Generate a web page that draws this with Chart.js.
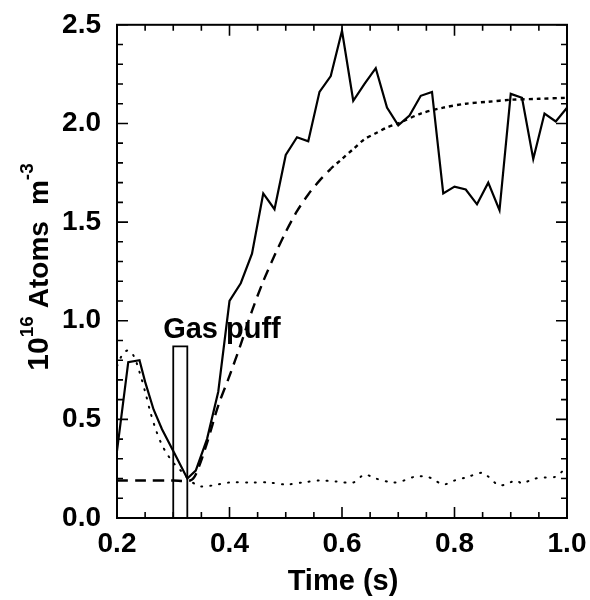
<!DOCTYPE html>
<html>
<head>
<meta charset="utf-8">
<script src="https://cdn.jsdelivr.net/npm/chart.js@4.4.1/dist/chart.umd.min.js"></script>
<style>
  html, body { margin: 0; padding: 0; background: #fff; }
  #wrap { width: 590px; height: 600px; }
</style>
</head>
<body>
<div id="wrap"><canvas id="chart" width="590" height="600"></canvas></div>
<script>
// measured signal (solid)
const measTime = [0.20, 0.22, 0.24, 0.25, 0.265, 0.28, 0.30, 0.325, 0.34, 0.36, 0.38, 0.40, 0.42, 0.44, 0.46, 0.48,
  0.50, 0.52, 0.54, 0.56, 0.58, 0.60, 0.62, 0.64, 0.66, 0.68, 0.70, 0.72, 0.74, 0.76, 0.78,
  0.80, 0.82, 0.84, 0.86, 0.88, 0.90, 0.92, 0.94, 0.96, 0.98, 1.00];
const measDens = [0.34, 0.79, 0.80, 0.69, 0.55, 0.45, 0.34, 0.20, 0.24, 0.40, 0.64, 1.10, 1.19, 1.34, 1.645, 1.565,
  1.84, 1.93, 1.91, 2.16, 2.24, 2.47, 2.115, 2.20, 2.28, 2.08, 1.99, 2.04, 2.14, 2.16, 1.645,
  1.68, 1.665, 1.59, 1.70, 1.56, 2.15, 2.13, 1.82, 2.05, 2.01, 2.08];

// fitted rise (dashed)
const fitTime = [0.20, 0.25, 0.30, 0.33, 0.34, 0.36, 0.38, 0.40, 0.42, 0.44, 0.46, 0.48, 0.50, 0.52, 0.54,
  0.56, 0.58, 0.60, 0.62, 0.64, 0.66, 0.68, 0.70, 0.74, 0.78, 0.82, 0.86, 0.90, 0.95, 1.00];
const fitDens = [0.19, 0.19, 0.19, 0.19, 0.22, 0.38, 0.57, 0.72, 0.88, 1.05, 1.20, 1.33, 1.45, 1.555, 1.64,
  1.71, 1.77, 1.82, 1.87, 1.92, 1.95, 1.98, 2.00, 2.05, 2.08, 2.10, 2.11, 2.12, 2.125, 2.13];

// model (dotted)
const modelTime = [0.20, 0.21, 0.22, 0.23, 0.24, 0.25, 0.26, 0.27, 0.28, 0.29, 0.30, 0.31, 0.32, 0.33, 0.34,
  0.35, 0.37, 0.40, 0.44, 0.47, 0.50, 0.53, 0.56, 0.59, 0.62, 0.64, 0.66, 0.69, 0.71, 0.73,
  0.75, 0.76, 0.78, 0.80, 0.82, 0.85, 0.86, 0.88, 0.91, 0.92, 0.94, 0.96, 0.98, 1.00];
const modelDens = [0.77, 0.83, 0.85, 0.82, 0.74, 0.64, 0.53, 0.44, 0.37, 0.32, 0.28, 0.25, 0.22, 0.19, 0.17,
  0.16, 0.165, 0.18, 0.18, 0.18, 0.17, 0.18, 0.19, 0.185, 0.18, 0.22, 0.20, 0.18, 0.19, 0.21,
  0.21, 0.20, 0.17, 0.19, 0.205, 0.23, 0.21, 0.165, 0.19, 0.175, 0.198, 0.205, 0.21, 0.26];

// gas puff box outline
const puffTime = [0.30, 0.30, 0.325, 0.325];
const puffDens = [0.0, 0.87, 0.87, 0.0];

const xTicks = [0.2, 0.4, 0.6, 0.8, 1.0];
const yTicks = [0.0, 0.5, 1.0, 1.5, 2.0, 2.5];

const FONT = '"Liberation Sans", Arial, sans-serif';

function pts(xs, ys) {
  return xs.map((x, i) => ({ x: x, y: ys[i] }));
}

const framePlugin = {
  id: "frame",
  afterDraw(chart) {
    const { ctx, chartArea: a, scales: { x, y } } = chart;
    ctx.save();
    ctx.strokeStyle = "#000";
    ctx.lineWidth = 2;
    ctx.strokeRect(a.left, a.top, a.right - a.left, a.bottom - a.top);

    // inward ticks on all sides
    ctx.lineWidth = 1.6;
    ctx.beginPath();
    for (let i = 0; i <= 16; i++) {
      const px = x.getPixelForValue(0.2 + i * 0.05);
      const len = i % 4 === 0 ? 11 : 6;
      ctx.moveTo(px, a.bottom); ctx.lineTo(px, a.bottom - len);
      ctx.moveTo(px, a.top); ctx.lineTo(px, a.top + len);
    }
    for (let i = 0; i <= 25; i++) {
      const py = y.getPixelForValue(i * 0.1);
      const len = i % 5 === 0 ? 11 : 6;
      ctx.moveTo(a.left, py); ctx.lineTo(a.left + len, py);
      ctx.moveTo(a.right, py); ctx.lineTo(a.right - len, py);
    }
    ctx.stroke();

    ctx.fillStyle = "#000";
    // gas puff label
    ctx.font = "bold 29px " + FONT;
    ctx.textAlign = "left";
    ctx.textBaseline = "alphabetic";
    ctx.fillText("Gas puff", x.getPixelForValue(0.282), y.getPixelForValue(0.91));

    // x title
    ctx.textAlign = "center";
    ctx.textBaseline = "middle";
    ctx.fillText("Time (s)", (a.left + a.right) / 2 + 1, 582);

    // y title with superscripts, read bottom to top
    ctx.translate(30, 267);
    ctx.rotate(-Math.PI / 2);
    const parts = [
      ["10", 30, 0, 0], ["16", 19, -12, 8], ["Atoms", 28, 0, 16], ["m", 28, 0, 0], ["-3", 19, -12, 0]
    ];
    let w = 0;
    parts.forEach(p => { ctx.font = "bold " + p[1] + "px " + FONT; w += ctx.measureText(p[0]).width + p[3]; });
    let cx = -w / 2;
    ctx.textAlign = "left";
    parts.forEach(p => {
      ctx.font = "bold " + p[1] + "px " + FONT;
      ctx.fillText(p[0], cx, 10 + p[2]);
      cx += ctx.measureText(p[0]).width + p[3];
    });
    ctx.restore();
  }
};

new Chart(document.getElementById("chart"), {
  type: "scatter",
  data: {
    datasets: [
      {
        data: pts(measTime, measDens),
        showLine: true, borderColor: "#000", borderWidth: 2.2,
        pointRadius: 0, tension: 0
      },
      {
        data: pts(fitTime, fitDens),
        showLine: true, borderColor: "#000", borderWidth: 2.4,
        pointRadius: 0, tension: 0.3,
        segment: { borderDash: c => c.p0.parsed.x < 0.58 ? [11, 7] : [4, 4] }
      },
      {
        data: pts(modelTime, modelDens),
        showLine: true, borderColor: "#000", borderWidth: 2,
        borderCapStyle: "round", borderDash: [1, 8],
        pointRadius: 0, tension: 0.3
      },
      {
        data: pts(puffTime, puffDens),
        showLine: true, borderColor: "#000", borderWidth: 1.8,
        pointRadius: 0, tension: 0
      }
    ]
  },
  options: {
    responsive: false,
    animation: false,
    layout: { padding: { top: 18, right: 23, left: 0, bottom: 0 } },
    plugins: { legend: { display: false }, tooltip: { enabled: false } },
    scales: {
      x: {
        type: "linear", min: 0.2, max: 1.0,
        afterBuildTicks: s => { s.ticks = xTicks.map(v => ({ value: v })); },
        afterFit: s => { s.height = 82; },
        grid: { display: false }, border: { display: false },
        ticks: {
          color: "#000", padding: 1,
          font: { family: FONT, size: 28, weight: "bold" },
          callback: v => v.toFixed(1)
        }
      },
      y: {
        type: "linear", min: 0, max: 2.5,
        afterBuildTicks: s => { s.ticks = yTicks.map(v => ({ value: v })); },
        afterFit: s => { s.width = 117; },
        grid: { display: false }, border: { display: false },
        ticks: {
          color: "#000", padding: 8,
          font: { family: FONT, size: 28, weight: "bold" },
          callback: v => v.toFixed(1)
        }
      }
    }
  },
  plugins: [framePlugin]
});
</script>
</body>
</html>
